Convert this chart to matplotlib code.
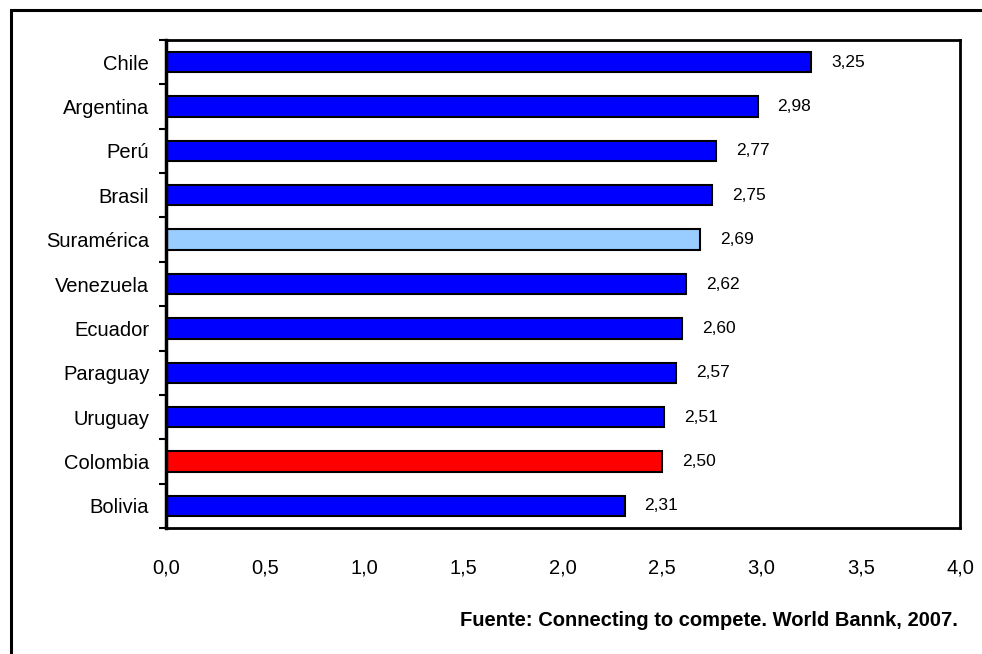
import matplotlib.pyplot as plt
from matplotlib.patches import Rectangle

# DATA
countries = ['Chile', 'Argentina', 'Perú', 'Brasil', 'Suramérica', 'Venezuela',
             'Ecuador', 'Paraguay', 'Uruguay', 'Colombia', 'Bolivia']
scores = [3.25, 2.98, 2.77, 2.75, 2.69, 2.62, 2.60, 2.57, 2.51, 2.50, 2.31]
bar_colors = ['#0000FF', '#0000FF', '#0000FF', '#0000FF', '#99CCFF', '#0000FF',
              '#0000FF', '#0000FF', '#0000FF', '#FF0000', '#0000FF']
xticks = [0.0, 0.5, 1.0, 1.5, 2.0, 2.5, 3.0, 3.5, 4.0]
source = 'Fuente: Connecting to compete. World Bannk, 2007.'

plt.rcParams['font.family'] = ['Liberation Sans', 'DejaVu Sans']

# CREATING FIGURE AND AXES
fig = plt.figure(figsize=(9.82, 6.54), dpi=100)
fig.patch.set_facecolor('w')
ax = fig.add_axes([166 / 982, 1 - 528 / 654, (960 - 166) / 982, (528 - 40) / 654])

# OUTER FRAME (runs off the right and bottom edges)
fig.patches.append(Rectangle((11 / 982, -0.05), 1.1, 1 - 10 / 654 + 0.05,
                             transform=fig.transFigure, fill=False,
                             edgecolor='black', linewidth=2.2, clip_on=False))

# BARS
ypos = list(range(len(countries)))
ax.barh(ypos, scores, height=0.46, color=bar_colors,
        edgecolor='black', linewidth=1.5)

for y, v in zip(ypos, scores):
    ax.text(v + 0.1, y, '{:.2f}'.format(v).replace('.', ','),
            va='center', ha='left', fontsize=12.5)

# AXES
ax.set_xlim(0, 4.0)
ax.set_ylim(len(countries) - 0.5, -0.5)
ax.set_xticks(xticks)
ax.set_xticklabels(['{:.1f}'.format(t).replace('.', ',') for t in xticks],
                   fontsize=14.5)
ax.tick_params(axis='x', length=0, pad=22)

ax.set_yticks(ypos)
ax.set_yticklabels(countries, fontsize=14.5)
ax.tick_params(axis='y', length=0, pad=12)
ax.set_yticks([y + 0.5 for y in range(-1, len(countries))], minor=True)
ax.tick_params(axis='y', which='minor', length=5, width=1.5, direction='out')

for side in ['top', 'right', 'bottom']:
    ax.spines[side].set_linewidth(2)
ax.spines['left'].set_linewidth(2.5)

# SOURCE
fig.text(958 / 982, 1 - 621 / 654, source, ha='right', va='center',
         fontsize=14.5, fontweight='bold')

plt.savefig('out.png', dpi=100)
